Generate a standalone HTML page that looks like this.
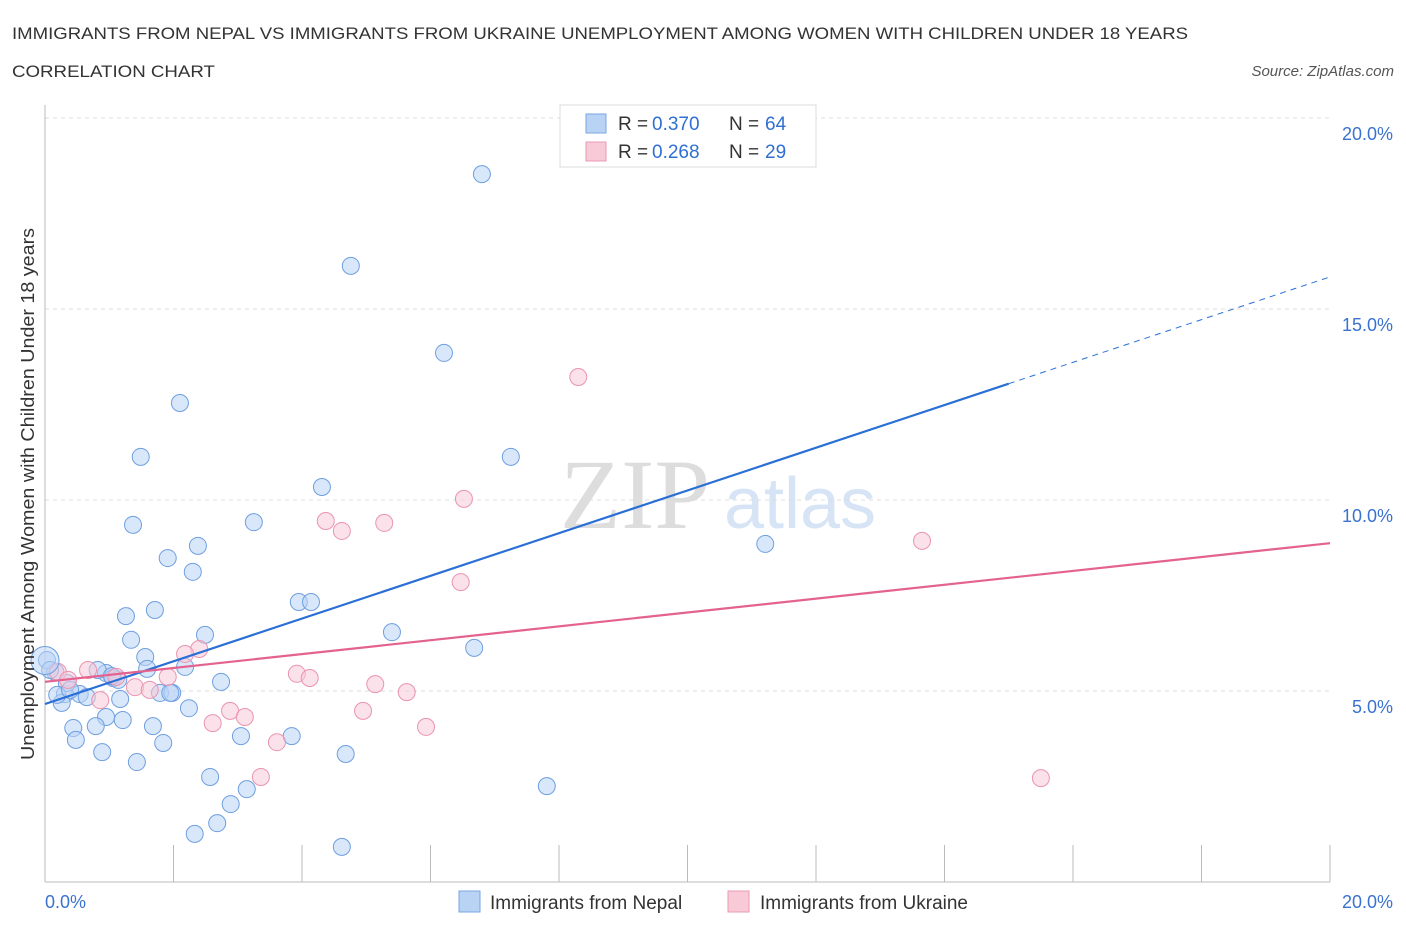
<!DOCTYPE html>
<html><head><meta charset="utf-8"><style>
body{margin:0;background:#fff;font-family:"Liberation Sans",sans-serif}
#c{position:absolute;left:0;top:0}
</style></head><body>
<svg id="c" width="1406" height="930" xmlns="http://www.w3.org/2000/svg">
<text x="12" y="39" font-size="17" fill="#333" textLength="1176" lengthAdjust="spacingAndGlyphs">IMMIGRANTS FROM NEPAL VS IMMIGRANTS FROM UKRAINE UNEMPLOYMENT AMONG WOMEN WITH CHILDREN UNDER 18 YEARS</text>
<text x="12" y="77" font-size="17" fill="#333" textLength="203" lengthAdjust="spacingAndGlyphs">CORRELATION CHART</text>
<text x="1394" y="76" font-size="15" fill="#555" font-style="italic" text-anchor="end">Source: ZipAtlas.com</text>
<text x="635" y="528" font-size="100" fill="#ddd" font-family="Liberation Serif" text-anchor="middle">ZIP</text>
<text x="800" y="528" font-size="72" fill="#d6e4f5" text-anchor="middle">atlas</text>
<g id="grid"></g><g id="axes"></g><g id="pts"></g><g id="lines"></g>
<text transform="translate(34,494) rotate(-90)" font-size="18" fill="#333" text-anchor="middle" textLength="532" lengthAdjust="spacingAndGlyphs">Unemployment Among Women with Children Under 18 years</text>
<g>
<rect x="560" y="105" width="256" height="62" fill="#fff" stroke="#ddd"/>
<rect x="586" y="114" width="20" height="19" fill="#b9d3f5" stroke="#7aa6e0"/>
<rect x="586" y="142" width="20" height="19" fill="#f8c9d7" stroke="#eb9ab4"/>
<text x="618" y="130" font-size="19" fill="#333">R =</text><text x="652" y="130" font-size="19" fill="#2f6fd3">0.370</text>
<text x="729" y="130" font-size="19" fill="#333">N =</text><text x="765" y="130" font-size="19" fill="#2f6fd3">64</text>
<text x="618" y="158" font-size="19" fill="#333">R =</text><text x="652" y="158" font-size="19" fill="#2f6fd3">0.268</text>
<text x="729" y="158" font-size="19" fill="#333">N =</text><text x="765" y="158" font-size="19" fill="#2f6fd3">29</text>
</g>
<g>
<rect x="459" y="891" width="21" height="21" fill="#b9d3f5" stroke="#7aa6e0"/>
<text x="490" y="909" font-size="19" fill="#333">Immigrants from Nepal</text>
<rect x="728" y="891" width="21" height="21" fill="#f8c9d7" stroke="#eb9ab4"/>
<text x="760" y="909" font-size="19" fill="#333">Immigrants from Ukraine</text>
</g>
</svg>
<script>
const yTicks=[5,10,15,20];
const yTickLabels=["5.0%","10.0%","15.0%","20.0%"];
const xTickCount=10;
const nepalX=[6.80,4.76,6.21,2.10,1.49,7.25,4.31,1.37,3.25,2.38,1.91,11.21,2.30,1.71,1.26,3.95,4.14,5.40,1.34,2.49,6.68,1.56,1.59,2.18,2.74,1.79,1.98,2.24,1.17,0.95,1.06,0.82,0.54,0.65,0.31,0.26,0.16,0.03,0.34,0.95,1.21,0.79,0.44,0.48,1.68,3.05,3.84,1.84,0.89,1.43,4.68,2.57,7.81,3.14,2.89,2.68,2.33,4.62,0.19,0.39,1.14,1.95,0.08,1.04];
const nepalY=[18.53,16.13,13.85,12.54,11.13,11.13,10.34,9.35,9.42,8.80,8.48,8.85,8.12,7.12,6.96,7.33,7.33,6.54,6.34,6.47,6.13,5.89,5.58,5.63,5.24,4.95,4.95,4.55,4.79,5.47,5.34,5.55,4.92,4.84,4.92,4.69,5.50,5.81,5.21,4.32,4.24,4.08,4.03,3.72,4.08,3.82,3.82,3.64,3.40,3.14,3.35,2.75,2.51,2.43,2.04,1.54,1.26,0.92,4.90,5.03,5.29,4.95,5.55,5.39];
const ukrX=[8.30,6.52,4.37,4.62,5.28,13.65,6.47,2.40,2.18,0.67,1.11,0.20,0.36,1.91,1.40,1.63,3.92,4.12,5.14,5.63,0.86,2.88,3.11,4.95,2.61,5.93,3.61,3.36,15.50];
const ukrY=[13.22,10.03,9.45,9.19,9.40,8.93,7.85,6.10,5.97,5.55,5.37,5.50,5.29,5.37,5.10,5.03,5.45,5.34,5.18,4.97,4.76,4.48,4.32,4.48,4.16,4.06,3.66,2.75,2.72];
const nepalTrend=[4.66,15.84];
const ukrTrend=[5.24,8.87];
const X0=45,X1=1330,Y0=882,PY=38.2;
const sx=v=>X0+v/20*(X1-X0), sy=v=>Y0-v*PY;
const NS="http://www.w3.org/2000/svg";
function mk(t,a,p){const e=document.createElementNS(NS,t);for(const k in a)e.setAttribute(k,a[k]);p.appendChild(e);return e;}
const grid=document.getElementById('grid'),axes=document.getElementById('axes'),pts=document.getElementById('pts'),lines=document.getElementById('lines');
yTicks.forEach((v,i)=>{
 const l=mk('line',{x1:X0,x2:X1,y1:sy(v),y2:sy(v),stroke:'#ddd','stroke-dasharray':'4,4'},grid);
 
 
 const t=mk('text',{x:1393,y:sy(v)+22,'font-size':18,fill:'#3a72d0','text-anchor':'end'},axes);
 t.textContent=yTickLabels[i];
 
 
});
const ax=mk('line',{x1:X0,x2:X0,y1:105,y2:Y0,stroke:'#bbb'},axes);


const bx=mk('line',{x1:X0,x2:X1,y1:Y0,y2:Y0,stroke:'#bbb'},axes);


for(let i=0;i<=xTickCount;i++){
 const x=X0+i*(X1-X0)/xTickCount;
 const t=mk('line',{x1:x,x2:x,y1:845,y2:Y0,stroke:'#bbb'},axes);
 
 
}
const xl=mk('text',{x:45,y:908,'font-size':18,fill:'#3a72d0'},axes);xl.textContent='0.0%';


const xr=mk('text',{x:1393,y:908,'font-size':18,fill:'#3a72d0','text-anchor':'end'},axes);xr.textContent='20.0%';


function dots(X,Y,fill,stroke,name){X.forEach((x,i)=>{
 const c=mk('circle',{cx:sx(x),cy:sy(Y[i]),r:8.5,fill:fill,'fill-opacity':0.55,stroke:stroke,'stroke-width':1},pts);
 
 
});}
dots(nepalX,nepalY,'#b9d3f5','#6e9fe0','nepal-point');
dots(ukrX,ukrY,'#f8c9d7','#ea94b0','ukraine-point');
const bigN=mk('circle',{cx:sx(0),cy:sy(5.8),r:14,fill:'#b9d3f5','fill-opacity':0.5,stroke:'#6e9fe0'},pts);


const xs=15;
const l1=mk('line',{x1:sx(0),y1:sy(nepalTrend[0]),x2:sx(xs),y2:sy(nepalTrend[0]+(nepalTrend[1]-nepalTrend[0])*xs/20),stroke:'#2a6fd6','stroke-width':2.2},lines);


const l2=mk('line',{x1:sx(xs),y1:sy(nepalTrend[0]+(nepalTrend[1]-nepalTrend[0])*xs/20),x2:sx(20),y2:sy(nepalTrend[1]),stroke:'#2a6fd6','stroke-width':1,'stroke-dasharray':'6,5'},lines);


const l3=mk('line',{x1:sx(0),y1:sy(ukrTrend[0]),x2:sx(20),y2:sy(ukrTrend[1]),stroke:'#e4628e','stroke-width':2.2},lines);


</script>
</body></html>
